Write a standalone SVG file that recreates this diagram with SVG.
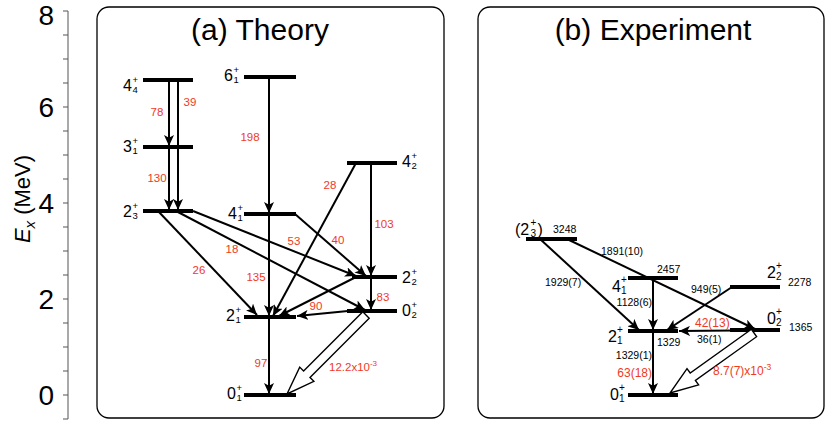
<svg xmlns="http://www.w3.org/2000/svg" width="831" height="427" viewBox="0 0 831 427">
<style>
text{font-family:"Liberation Sans",Arial,sans-serif;fill:#000}
.panel{fill:#fff;stroke:#000;stroke-width:1.3}
.lvl{stroke:#000;stroke-width:3.8}
.arr{stroke:#000;stroke-width:2;fill:none;marker-end:url(#ah)}
.tick{stroke:#555;stroke-width:1}
.r{fill:#f03a1e;font-size:11.5px}
.rb{fill:#f03a1e;font-size:12px}
.k{font-size:10.5px}
.big{font-size:16px}
.bigr{font-size:16px}
.sm{font-size:9.5px}
.smr{font-size:10px}
.e0{fill:#fff;stroke:#000;stroke-width:1.4;stroke-linejoin:miter}
</style>
<defs>
<marker id="ah" markerWidth="11" markerHeight="10" refX="11" refY="5" orient="auto" markerUnits="userSpaceOnUse">
<path d="M0,0 L11,5 L0,10 L2.8,5 z" fill="#000"/>
</marker>
</defs>
<rect width="831" height="427" fill="#fff"/>

<g id="axis">
<line class="tick" x1="68" y1="11" x2="68" y2="419"/>
<g class="tick">
<line x1="63" y1="11" x2="68" y2="11"/><line x1="63" y1="35" x2="68" y2="35"/><line x1="63" y1="59" x2="68" y2="59"/><line x1="63" y1="83" x2="68" y2="83"/>
<line x1="63" y1="107" x2="68" y2="107"/><line x1="63" y1="131" x2="68" y2="131"/><line x1="63" y1="155" x2="68" y2="155"/><line x1="63" y1="179" x2="68" y2="179"/>
<line x1="63" y1="203" x2="68" y2="203"/><line x1="63" y1="227" x2="68" y2="227"/><line x1="63" y1="251" x2="68" y2="251"/><line x1="63" y1="275" x2="68" y2="275"/>
<line x1="63" y1="299" x2="68" y2="299"/><line x1="63" y1="323" x2="68" y2="323"/><line x1="63" y1="347" x2="68" y2="347"/><line x1="63" y1="371" x2="68" y2="371"/>
<line x1="63" y1="395" x2="68" y2="395"/><line x1="63" y1="419" x2="68" y2="419"/>
</g>
<g font-size="28" text-anchor="end">
<text x="54" y="25">8</text>
<text x="54" y="117">6</text>
<text x="54" y="213">4</text>
<text x="54" y="309">2</text>
<text x="54" y="405">0</text>
</g>
<text transform="translate(30,199) rotate(-90)" text-anchor="middle" font-size="22"><tspan font-style="italic">E</tspan><tspan font-style="italic" font-size="15" dy="5">x</tspan><tspan dy="-5"> (MeV)</tspan></text>
</g>

<g id="panel-a">
<rect class="panel" x="97" y="7" width="347" height="411" rx="12"/>
<text x="260" y="40" font-size="30" text-anchor="middle">(a) Theory</text>
</g>
<g id="panel-b">
<rect class="panel" x="478" y="7" width="346" height="411" rx="12"/>
<text x="653" y="40" font-size="30" text-anchor="middle">(b) Experiment</text>
</g>

<!-- Theory levels -->
<g id="a-4_4"><line class="lvl" x1="143" y1="80" x2="193" y2="80"/><text class="big" x="123" y="91">4</text><text class="sm" x="132.5" y="83">+</text><text class="sm" x="132.5" y="93">4</text></g>
<g id="a-3_1"><line class="lvl" x1="143" y1="147" x2="193" y2="147"/><text class="big" x="123" y="152">3</text><text class="sm" x="132.5" y="144">+</text><text class="sm" x="132.5" y="154">1</text></g>
<g id="a-2_3"><line class="lvl" x1="143" y1="211" x2="193" y2="211"/><text class="big" x="123" y="217">2</text><text class="sm" x="132.5" y="209">+</text><text class="sm" x="132.5" y="219">3</text></g>
<g id="a-6_1"><line class="lvl" x1="244" y1="77" x2="296" y2="77"/><text class="big" x="224" y="81">6</text><text class="sm" x="233.5" y="73">+</text><text class="sm" x="233.5" y="83">1</text></g>
<g id="a-4_1"><line class="lvl" x1="244" y1="214" x2="296" y2="214"/><text class="big" x="228" y="219">4</text><text class="sm" x="237.5" y="211">+</text><text class="sm" x="237.5" y="221">1</text></g>
<g id="a-2_1"><line class="lvl" x1="244" y1="317" x2="296" y2="317"/><text class="big" x="226" y="321">2</text><text class="sm" x="235.5" y="313">+</text><text class="sm" x="235.5" y="323">1</text></g>
<g id="a-0_1"><line class="lvl" x1="244" y1="395" x2="296" y2="395"/><text class="big" x="227" y="399">0</text><text class="sm" x="236.5" y="391">+</text><text class="sm" x="236.5" y="401">1</text></g>
<g id="a-4_2"><line class="lvl" x1="347" y1="163" x2="397" y2="163"/><text class="big" x="402" y="167">4</text><text class="sm" x="411.5" y="159">+</text><text class="sm" x="411.5" y="169">2</text></g>
<g id="a-2_2"><line class="lvl" x1="352" y1="277" x2="397" y2="277"/><text class="big" x="402" y="283">2</text><text class="sm" x="411.5" y="275">+</text><text class="sm" x="411.5" y="285">2</text></g>
<g id="a-0_2"><line class="lvl" x1="347" y1="311" x2="397" y2="311"/><text class="big" x="402" y="316">0</text><text class="sm" x="411.5" y="308">+</text><text class="sm" x="411.5" y="318">2</text></g>

<!-- Experiment levels -->
<g id="b-2_3"><line class="lvl" x1="526" y1="239" x2="577" y2="239"/><text class="bigr" x="515" y="235">(2</text><text class="smr" x="530.5" y="226">+</text><text class="smr" x="530.5" y="237">3</text><text class="bigr" x="537.5" y="235">)</text><text class="k" x="553" y="233">3248</text></g>
<g id="b-4_1"><line class="lvl" x1="628" y1="278" x2="678" y2="278"/><text class="bigr" x="612" y="292">4</text><text class="smr" x="621" y="283">+</text><text class="smr" x="621" y="294">1</text><text class="k" x="657" y="273">2457</text></g>
<g id="b-2_1"><line class="lvl" x1="628" y1="331" x2="678" y2="331"/><text class="bigr" x="608" y="342">2</text><text class="smr" x="617" y="333">+</text><text class="smr" x="617" y="344">1</text><text class="k" x="657" y="346">1329</text></g>
<g id="b-0_1"><line class="lvl" x1="628" y1="395" x2="678" y2="395"/><text class="bigr" x="610" y="400">0</text><text class="smr" x="619" y="391">+</text><text class="smr" x="619" y="402">1</text></g>
<g id="b-2_2"><line class="lvl" x1="730" y1="287" x2="780" y2="287"/><text class="bigr" x="767" y="278">2</text><text class="smr" x="776" y="269">+</text><text class="smr" x="776" y="280">2</text><text class="k" x="788" y="286">2278</text></g>
<g id="b-0_2"><line class="lvl" x1="730" y1="330" x2="780" y2="330"/><text class="bigr" x="767" y="324">0</text><text class="smr" x="776" y="315">+</text><text class="smr" x="776" y="326">2</text><text class="k" x="789" y="331">1365</text></g>

<g id="connectors">
<!-- theory -->
<line class="arr" x1="169" y1="80" x2="169" y2="146"/>
<line class="arr" x1="178" y1="80" x2="178" y2="210"/>
<line class="arr" x1="169" y1="147" x2="169" y2="210"/>
<line class="arr" x1="269" y1="77" x2="269" y2="213"/>
<line class="arr" x1="269" y1="214" x2="269" y2="316"/>
<line class="arr" x1="269" y1="317" x2="269" y2="394"/>
<line class="arr" x1="158" y1="211" x2="257" y2="315"/>
<line class="arr" x1="176" y1="211" x2="365" y2="310"/>
<line class="arr" x1="193" y1="211" x2="356" y2="276"/>
<line class="arr" x1="295" y1="214" x2="366" y2="276"/>
<line class="arr" x1="356" y1="163" x2="273" y2="316"/>
<line class="arr" x1="371" y1="163" x2="371" y2="276"/>
<line class="arr" x1="371" y1="277" x2="371" y2="310"/>
<line class="arr" x1="356" y1="277" x2="279" y2="316"/>
<line class="arr" x1="348" y1="311" x2="297" y2="316"/>
<polygon class="e0" points="362.8,311.8 303.6,371 299.7,367.1 287,394 313.9,381.3 310,377.4 369.2,318.2"/>
<!-- experiment -->
<line class="arr" x1="540" y1="239" x2="639" y2="330"/>
<line class="arr" x1="567" y1="239" x2="755" y2="329"/>
<line class="arr" x1="653" y1="278" x2="653" y2="330"/>
<line class="arr" x1="732" y1="287" x2="667" y2="330"/>
<line class="arr" x1="735" y1="330.5" x2="679" y2="331"/>
<line class="arr" x1="653" y1="331" x2="653" y2="394"/>
<polygon class="e0" points="751.4,329.3 690.2,373 687,368.6 670,393 698.6,384.8 695.4,380.4 756.6,336.7"/>
</g>

<g id="labels-a" text-anchor="middle">
<text class="r" x="157" y="116">78</text>
<text class="r" x="190" y="106">39</text>
<text class="r" x="157" y="182">130</text>
<text class="r" x="250" y="141">198</text>
<text class="r" x="330" y="189">28</text>
<text class="r" x="384" y="228">103</text>
<text class="r" x="294" y="245">53</text>
<text class="r" x="338" y="244">40</text>
<text class="r" x="232" y="253">18</text>
<text class="r" x="256" y="281">135</text>
<text class="r" x="199" y="274">26</text>
<text class="r" x="316" y="310">90</text>
<text class="r" x="383" y="301">83</text>
<text class="r" x="261" y="367">97</text>
<text class="r" x="329" y="371" text-anchor="start">12.2x10<tspan font-size="8" dy="-5">-3</tspan></text>
</g>
<g id="labels-b">
<text class="k" x="601" y="255">1891(10)</text>
<text class="k" x="545" y="286">1929(7)</text>
<text class="k" x="652" y="306" text-anchor="end">1128(6)</text>
<text class="k" x="691" y="293">949(5)</text>
<text class="rb" x="695" y="327">42(13)</text>
<text class="k" x="697" y="343">36(1)</text>
<text class="k" x="652" y="359" text-anchor="end">1329(1)</text>
<text class="rb" x="652" y="377" text-anchor="end">63(18)</text>
<text class="rb" x="713" y="375">8.7(7)x10<tspan font-size="8.5" dy="-5">-3</tspan></text>
</g>
</svg>
